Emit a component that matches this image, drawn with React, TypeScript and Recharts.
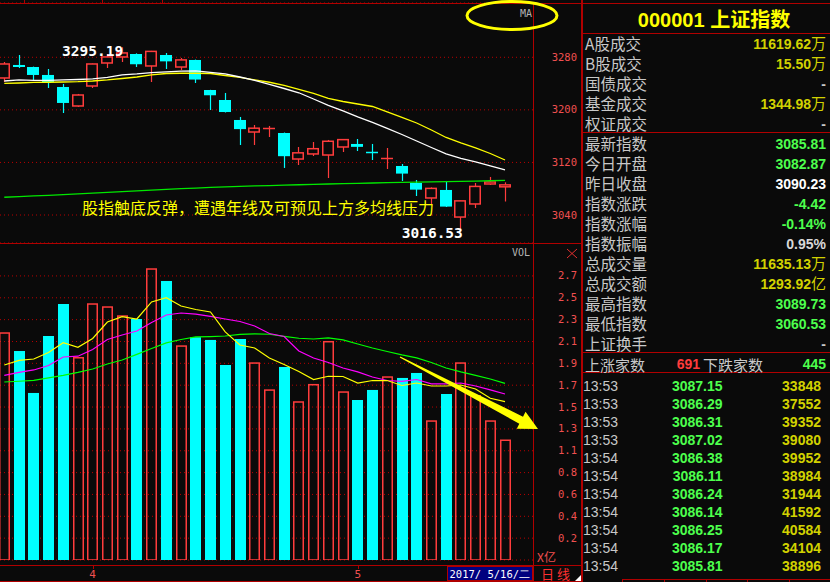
import React from 'react';
import { ComposedChart, Bar, Line, XAxis, YAxis, CartesianGrid, ReferenceLine, ReferenceDot } from 'recharts';

// ---------------- data ----------------
const dates = ['3/24','3/27','3/28','3/29','3/30','3/31','4/5','4/6','4/7','4/10','4/11','4/12','4/13','4/14','4/17','4/18','4/19','4/20','4/21','4/24','4/25','4/26','4/27','4/28','5/2','5/3','5/4','5/5','5/8','5/9','5/10','5/11','5/12','5/15','5/16'];
const opens = [3248.5,3268.3,3265.2,3253.1,3234.8,3205.9,3236.3,3271.3,3280.5,3285.0,3266.8,3283.5,3265.2,3275.9,3230.2,3215.0,3184.6,3166.3,3171.7,3164.8,3125.2,3132.9,3131.3,3143.5,3148.1,3137.5,3126.2,3114.6,3088.7,3065.9,3078.1,3036.9,3056.8,3087.2,3082.87];
const highs = [3272.8,3283.5,3265.8,3262.2,3239.4,3224.2,3270.5,3285.0,3295.19,3286.0,3289.7,3286.5,3278.9,3276.5,3230.5,3225.7,3189.2,3177.0,3175.5,3165.5,3143.5,3151.1,3154.2,3155.0,3155.7,3148.1,3142.0,3117.6,3093.3,3082.0,3091.8,3062.0,3088.7,3097.9,3089.73];
const lows = [3242.4,3263.7,3245.5,3233.3,3195.2,3204.4,3233.3,3263.7,3272.8,3265.2,3242.4,3262.2,3260.7,3240.9,3199.8,3196.0,3146.5,3146.5,3158.7,3111.6,3116.1,3129.8,3096.3,3135.9,3137.4,3123.7,3110.0,3091.8,3068.9,3056.8,3052.2,3016.53,3050.7,3085.7,3060.53];
const closes = [3269.8,3265.2,3253.1,3242.4,3210.5,3222.6,3269.8,3280.5,3286.6,3269.4,3288.97,3273.8,3276.0,3246.1,3222.2,3196.7,3170.7,3172.1,3173.2,3129.5,3134.6,3140.9,3152.2,3154.7,3143.7,3135.4,3127.4,3103.0,3078.6,3080.5,3052.8,3061.5,3083.5,3090.23,3085.81];
const volumes = [2.199,2.018,1.613,2.163,2.472,1.960,2.479,2.450,2.363,2.327,2.817,2.694,2.073,2.151,2.125,1.883,2.134,1.909,1.648,1.864,1.533,1.700,2.115,1.629,1.545,1.642,1.774,1.758,1.806,1.349,1.603,1.909,1.593,1.349,1.1635];
const priceMaWhite = [3243.9,3245.5,3245.0,3245.0,3245.5,3246.2,3247.0,3249.3,3253.1,3254.6,3256.6,3257.9,3258.8,3259.2,3256.9,3254.6,3250.0,3244.7,3238.6,3232.5,3226.0,3216.5,3206.7,3198.3,3189.2,3180.8,3171.7,3162.5,3152.6,3142.7,3132.9,3126.0,3120.7,3114.6,3108.5];
const priceMaYellow = [3240.4,3240.9,3241.7,3242.0,3242.4,3242.9,3243.9,3245.5,3247.7,3250.0,3253.1,3255.3,3255.7,3255.7,3255.3,3252.3,3249.3,3245.5,3242.0,3237.1,3231.0,3224.9,3217.3,3212.7,3208.9,3205.1,3196.8,3188.4,3180.0,3169.4,3158.0,3149.6,3142.0,3133.6,3123.7];
const priceMaYear = [3067.0,3068.0,3069.0,3070.0,3071.0,3072.2,3073.2,3074.4,3075.6,3076.8,3078.0,3079.0,3080.0,3081.0,3082.0,3082.8,3083.5,3084.2,3084.8,3085.4,3086.0,3086.6,3087.2,3087.7,3088.2,3088.7,3089.2,3089.7,3090.1,3090.5,3090.9,3091.3,3091.7,3092.1,3092.6];
const volMa5 = [1.883,1.927,1.941,2.004,2.098,2.054,2.139,2.298,2.350,2.327,2.492,2.533,2.453,2.419,2.395,2.202,2.076,2.047,1.951,1.888,1.820,1.743,1.774,1.772,1.709,1.733,1.733,1.685,1.709,1.680,1.680,1.690,1.651,1.562,1.529];
const volMa10 = [1.782,1.811,1.835,1.878,1.960,1.968,2.033,2.129,2.173,2.211,2.294,2.366,2.385,2.375,2.352,2.327,2.303,2.260,2.187,2.158,2.018,1.951,1.907,1.854,1.816,1.767,1.733,1.724,1.743,1.700,1.700,1.709,1.680,1.642,1.603];
const volMa20 = [1.719,1.726,1.735,1.758,1.782,1.811,1.844,1.893,1.931,1.985,2.042,2.096,2.129,2.154,2.157,2.163,2.178,2.183,2.180,2.160,2.141,2.134,2.144,2.125,2.086,2.047,2.013,1.980,1.951,1.907,1.854,1.816,1.782,1.748,1.706];

const priceTicks = [3040, 3120, 3200, 3280];
const volTicks = [0, 0.211, 0.422, 0.633, 0.844, 1.055, 1.266, 1.477, 1.688, 1.899, 2.11, 2.321, 2.532, 2.743];
const volTickLabels = ['', '0.2', '0.4', '0.6', '0.8', '1.1', '1.3', '1.5', '1.7', '1.9', '2.1', '2.3', '2.5', '2.7'];

const summaryLabels = ['A股成交', 'B股成交', '国债成交', '基金成交', '权证成交'];
const summaryValues = ['11619.62', '15.50', '-', '1344.98', '-'];
const summaryUnits = ['万', '万', '', '万', ''];
const quoteLabels = ['最新指数', '今日开盘', '昨日收盘', '指数涨跌', '指数涨幅', '指数振幅', '总成交量', '总成交额', '最高指数', '最低指数', '上证换手'];
const quoteValues = ['3085.81', '3082.87', '3090.23', '-4.42', '-0.14%', '0.95%', '11635.13', '1293.92', '3089.73', '3060.53', '-'];
const quoteUnits = ['', '', '', '', '', '', '万', '亿', '', '', ''];
const tickTimes = ['13:53', '13:53', '13:53', '13:53', '13:54', '13:54', '13:54', '13:54', '13:54', '13:54', '13:54'];
const tickPrices = ['3087.15', '3086.29', '3086.31', '3087.02', '3086.38', '3086.11', '3086.24', '3086.14', '3086.25', '3086.17', '3085.81'];
const tickVols = ['33848', '37552', '39352', '39080', '39952', '38984', '31944', '41592', '40584', '34104', '38896'];

// ---------------- styles ----------------
const BG = '#0a0a0a';
const RED = '#ff3c3c';
const CYAN = '#00ffff';
const BORDER = '#b00000';
const AXIS_TEXT = '#f05050';
const GRID = '#b80000';
const MONO = '"DejaVu Sans Mono", monospace';
const SANS = '"Liberation Sans", Arial, sans-serif';
const CJK = '"Noto Sans CJK SC", sans-serif';
const G_VAL = '#4dff4d';
const Y_VAL = '#d2d200';
const LABEL = '#c8c8c8';

const X_DOMAIN: [number, number] = [0.708, 36.9];

const data = dates.map((date, i) => ({
  idx: i + 1,
  date,
  open: opens[i],
  high: highs[i],
  low: lows[i],
  close: closes[i],
  range: [lows[i], highs[i]],
  vol: volumes[i],
  maW: priceMaWhite[i],
  maY: priceMaYellow[i],
  maYear: priceMaYear[i],
  v5: volMa5[i],
  v10: volMa10[i],
  v20: volMa20[i],
}));

const monthTicks = data.filter((d, i) => i > 0 && d.date.split('/')[0] !== data[i - 1].date.split('/')[0]).map((d) => d.idx);
const monthOf = (idx: number) => data[idx - 1].date.split('/')[0];

let hiPoint = data[0];
let loPoint = data[0];
data.forEach((d) => {
  if (d.high > hiPoint.high) hiPoint = d;
  if (d.low < loPoint.low) loPoint = d;
});

// ---------------- shapes ----------------
const Candle = (props: any) => {
  const { x, y, width, height, payload } = props;
  if (x == null || !payload) return null;
  const { open, close, high, low } = payload;
  const top = Math.min(y, y + height);
  const h = Math.abs(height);
  const span = high - low || 1;
  const py = (v: number) => top + ((high - v) / span) * h;
  const cx = Math.round(x + width / 2) + 0.5;
  const up = close >= open;
  const color = up ? RED : CYAN;
  const yo = py(open);
  const yc = py(close);
  const bTop = Math.min(yo, yc);
  const bBot = Math.max(yo, yc);
  const bh = bBot - bTop;
  const left = Math.round(x);
  if (bh < 1.6) {
    const ym = Math.round((bTop + bBot) / 2) + 0.5;
    return (
      <g>
        <line x1={cx} x2={cx} y1={top} y2={top + h} stroke={color} strokeWidth={1.2} />
        <line x1={left} x2={left + width} y1={ym} y2={ym} stroke={color} strokeWidth={1.5} />
      </g>
    );
  }
  if (up) {
    return (
      <g>
        <line x1={cx} x2={cx} y1={top} y2={bTop} stroke={color} strokeWidth={1.2} />
        <line x1={cx} x2={cx} y1={bBot} y2={top + h} stroke={color} strokeWidth={1.2} />
        <rect x={left + 0.75} y={bTop} width={width - 1.5} height={bh} fill={BG} stroke={color} strokeWidth={1.5} />
      </g>
    );
  }
  return (
    <g>
      <line x1={cx} x2={cx} y1={top} y2={top + h} stroke={color} strokeWidth={1.2} />
      <rect x={left} y={bTop} width={width} height={bh} fill={color} />
    </g>
  );
};

const VolBar = (props: any) => {
  const { x, y, width, height, payload } = props;
  if (x == null || !payload) return null;
  const top = Math.min(y, y + height);
  const h = Math.abs(height);
  const left = Math.round(x);
  if (payload.close >= payload.open) {
    return <rect x={left + 0.75} y={top + 0.75} width={width - 1.5} height={h - 0.75} fill="none" stroke={RED} strokeWidth={1.5} />;
  }
  return <rect x={left} y={top} width={width} height={h} fill={CYAN} />;
};

const PriceTick = (props: any) => {
  const { x, y, payload } = props;
  return (
    <text x={x + 44} y={y + 3.5} textAnchor="end" fill={AXIS_TEXT} fontSize={10.5} fontFamily={MONO}>
      {payload.value}
    </text>
  );
};

const VolTick = (props: any) => {
  const { x, y, payload } = props;
  const i = volTicks.indexOf(payload.value);
  return (
    <text x={x + 44} y={y + 3.5} textAnchor="end" fill={AXIS_TEXT} fontSize={10.5} fontFamily={MONO}>
      {i >= 0 ? volTickLabels[i] : ''}
    </text>
  );
};

const MonthTick = (props: any) => {
  const { x, y, payload } = props;
  return (
    <g>
      <line x1={Math.round(x) + 0.5} x2={Math.round(x) + 0.5} y1={y + 5} y2={y + 9} stroke={BORDER} />
      <text x={x} y={y + 18} textAnchor="middle" fill={AXIS_TEXT} fontSize={11} fontFamily={MONO}>
        {monthOf(payload.value)}
      </text>
    </g>
  );
};

const TrendArrow = (props: any) => {
  const { x1, y1, x2, y2 } = props;
  if ([x1, y1, x2, y2].some((v) => v == null || isNaN(v))) return null;
  const dx = x2 - x1;
  const dy = y2 - y1;
  const len = Math.sqrt(dx * dx + dy * dy);
  const ux = dx / len;
  const uy = dy / len;
  const nx = -uy;
  const ny = ux;
  const headLen = 19;
  const bx = x2 - ux * headLen;
  const by = y2 - uy * headLen;
  const pts = [
    [x1 + nx * 0.6, y1 + ny * 0.6],
    [bx + nx * 4, by + ny * 4],
    [bx + nx * 9.5, by + ny * 9.5],
    [x2, y2],
    [bx - nx * 9.5, by - ny * 9.5],
    [bx - nx * 4, by - ny * 4],
    [x1 - nx * 0.6, y1 - ny * 0.6],
  ];
  return <polygon points={pts.map((p) => p.join(',')).join(' ')} fill="#ffff00" />;
};

const HighLabel = (props: any) => {
  const { cx, cy } = props;
  if (cx == null) return null;
  return (
    <text x={cx + 1} y={cy + 8.5} textAnchor="end" fill="#ffffff" fontSize={14.5} fontWeight="bold" fontFamily={MONO}>
      {hiPoint.high.toFixed(2)}
    </text>
  );
};

const LowLabel = (props: any) => {
  const { cx, cy } = props;
  if (cx == null) return null;
  return (
    <text x={cx + 2} y={cy + 7.6} textAnchor="end" fill="#ffffff" fontSize={14.5} fontWeight="bold" fontFamily={MONO}>
      {loPoint.low.toFixed(2)}
    </text>
  );
};

// ---------------- right panel ----------------
const ValueText = ({ x, y, value, unit, color }: any) => (
  <text x={x} y={y} textAnchor="end" fill={color}>
    <tspan fontFamily={SANS} fontWeight="bold" fontSize={14}>{value}</tspan>
    {unit ? <tspan fontFamily={CJK} fontSize={15}>{unit}</tspan> : null}
  </text>
);

const summaryColors = [Y_VAL, Y_VAL, LABEL, Y_VAL, LABEL];
const quoteColors = [G_VAL, G_VAL, '#ffffff', G_VAL, G_VAL, '#d8d8d8', Y_VAL, Y_VAL, G_VAL, G_VAL, LABEL];

const RightPanel = () => (
  <svg width={830} height={582} style={{ position: 'absolute', left: 0, top: 0 }}>
    <text x={714} y={27} textAnchor="middle" fill="#ffff00" fontSize={20} fontWeight="bold">
      <tspan fontFamily={SANS}>000001 </tspan>
      <tspan fontFamily={CJK}>上证指数</tspan>
    </text>
    {summaryLabels.map((l, i) => (
      <g key={'s' + i}>
        <text x={585} y={50 + i * 20} fill={LABEL} fontSize={15.5} fontFamily={CJK}>{l}</text>
        <ValueText x={826} y={49 + i * 20} value={summaryValues[i]} unit={summaryUnits[i]} color={summaryColors[i]} />
      </g>
    ))}
    {quoteLabels.map((l, i) => (
      <g key={'q' + i}>
        <text x={585} y={150 + i * 20} fill={LABEL} fontSize={15.5} fontFamily={CJK}>{l}</text>
        <ValueText x={826} y={149 + i * 20} value={quoteValues[i]} unit={quoteUnits[i]} color={quoteColors[i]} />
      </g>
    ))}
    <text x={585} y={370.5} fill={LABEL} fontSize={15} fontFamily={CJK}>上涨家数</text>
    <text x={700} y={369} textAnchor="end" fill={RED} fontSize={14} fontWeight="bold" fontFamily={SANS}>691</text>
    <text x={703} y={370.5} fill={LABEL} fontSize={15} fontFamily={CJK}>下跌家数</text>
    <text x={826} y={369} textAnchor="end" fill={G_VAL} fontSize={14} fontWeight="bold" fontFamily={SANS}>445</text>
    {tickTimes.map((t, i) => (
      <g key={'t' + i}>
        <text x={583} y={391 + i * 18} fill={LABEL} fontSize={14} fontFamily={SANS}>{t}</text>
        <text x={722.5} y={391 + i * 18} textAnchor="end" fill={G_VAL} fontSize={14} fontWeight="bold" fontFamily={SANS}>{tickPrices[i]}</text>
        <text x={821} y={391 + i * 18} textAnchor="end" fill={Y_VAL} fontSize={14} fontWeight="bold" fontFamily={SANS}>{tickVols[i]}</text>
      </g>
    ))}
  </svg>
);

const Borders = () => (
  <svg width={830} height={582} style={{ position: 'absolute', left: 0, top: 0 }} shapeRendering="crispEdges">
    <g stroke={BORDER} strokeWidth={1}>
      <line x1={0} x2={830} y1={3.5} y2={3.5} />
      <line x1={24.5} x2={24.5} y1={0} y2={3} />
      <line x1={102.5} x2={102.5} y1={0} y2={3} />
      <line x1={162.5} x2={162.5} y1={0} y2={3} />
      <line x1={533.5} x2={533.5} y1={3} y2={582} />
      <line x1={0} x2={582} y1={243.5} y2={243.5} />
      <line x1={0} x2={582} y1={565.5} y2={565.5} />
      <line x1={0} x2={582} y1={581.5} y2={581.5} />
      <line x1={582} x2={830} y1={33.5} y2={33.5} />
      <line x1={582} x2={830} y1={132.5} y2={132.5} />
      <line x1={582} x2={830} y1={352.5} y2={352.5} />
      <line x1={582} x2={830} y1={372.5} y2={372.5} />
      <line x1={622} x2={830} y1={579.5} y2={579.5} />
      {[622.5, 664.5, 706.5, 747.5, 789.5].map((x) => (
        <line key={x} x1={x} x2={x} y1={579} y2={582} />
      ))}
    </g>
    <rect x={581} y={0} width={2} height={582} fill={BORDER} />
  </svg>
);

const Overlay = () => (
  <svg width={830} height={582} style={{ position: 'absolute', left: 0, top: 0, pointerEvents: 'none' }}>
    <text x={520} y={17} fill="#b4b4b4" fontSize={10} fontFamily={MONO}>MA</text>
    <ellipse cx={512} cy={15.5} rx={45} ry={14} fill="none" stroke="#ffff00" strokeWidth={3} />
    <text x={82} y={214} fill="#ffff00" fontSize={16} fontFamily={CJK}>股指触底反弹，遭遇年线及可预见上方多均线压力</text>
    <text x={512} y={256} fill="#b4b4b4" fontSize={10} fontFamily={MONO}>VOL</text>
    <g stroke="#e03030" strokeWidth={1}>
      <line x1={567} y1={249} x2={577} y2={258} />
      <line x1={577} y1={249} x2={567} y2={258} />
    </g>
    <text x={537} y={562} fill={AXIS_TEXT} fontSize={12} fontFamily={CJK}>X亿</text>
    <text x={541} y={578.5} fill="#ff3030" fontSize={13} fontFamily={CJK}>日 线</text>
    <polygon points="575,581 581,581 581,575" fill="#ffffff" />
    <rect x={447.5} y={566.5} width={85} height={14} fill="#000080" stroke={BORDER} />
    <text x={449.5} y={578} fill="#ffffff" fontSize={10.5} fontFamily={MONO}>2017/ 5/16/二</text>
  </svg>
);

export default function App() {
  return (
    <div style={{ position: 'absolute', left: 0, top: 0, width: 830, height: 582, background: BG, overflow: 'hidden' }}>
      <Borders />
      <div style={{ position: 'absolute', left: 0, top: 0 }}>
        <ComposedChart width={582} height={243} data={data} margin={{ top: 3, right: 0, bottom: 0, left: 0 }}>
          <CartesianGrid horizontal vertical={false} stroke={GRID} strokeDasharray="1 3" />
          <XAxis dataKey="idx" type="number" domain={X_DOMAIN} allowDataOverflow hide />
          <YAxis
            orientation="right"
            domain={[2997.4, 3362.6]}
            allowDataOverflow
            ticks={priceTicks}
            interval={0}
            width={49}
            axisLine={false}
            tickLine={false}
            tickSize={0}
            tickMargin={0}
            tick={<PriceTick />}
          />
          <Line dataKey="maYear" stroke="#00e800" strokeWidth={1.3} dot={false} isAnimationActive={false} />
          <Bar dataKey="range" barSize={12} shape={Candle} isAnimationActive={false} />
          <Line dataKey="maY" stroke="#ffff00" strokeWidth={1.3} dot={false} isAnimationActive={false} />
          <Line dataKey="maW" stroke="#ffffff" strokeWidth={1.3} dot={false} isAnimationActive={false} />
          <ReferenceDot x={hiPoint.idx} y={hiPoint.high} r={0} ifOverflow="visible" shape={HighLabel} />
          <ReferenceDot x={loPoint.idx} y={loPoint.low} r={0} ifOverflow="visible" shape={LowLabel} />
        </ComposedChart>
      </div>
      <div style={{ position: 'absolute', left: 0, top: 243 }}>
        <ComposedChart width={582} height={339} data={data} margin={{ top: 0, right: 0, bottom: 0, left: 0 }}>
          <CartesianGrid horizontal vertical={false} stroke={GRID} strokeDasharray="1 3" />
          <XAxis
            dataKey="idx"
            type="number"
            domain={X_DOMAIN}
            allowDataOverflow
            ticks={monthTicks}
            interval={0}
            height={22}
            axisLine={false}
            tickLine={false}
            tickSize={0}
            tickMargin={0}
            tick={<MonthTick />}
          />
          <YAxis
            orientation="right"
            domain={[0, 3.061]}
            allowDataOverflow
            ticks={volTicks}
            interval={0}
            width={49}
            axisLine={false}
            tickLine={false}
            tickSize={0}
            tickMargin={0}
            tick={<VolTick />}
          />
          <Bar dataKey="vol" barSize={11} shape={VolBar} isAnimationActive={false} />
          <Line dataKey="v20" stroke="#00ff00" strokeWidth={1.2} dot={false} isAnimationActive={false} />
          <Line dataKey="v10" stroke="#ff00ff" strokeWidth={1.2} dot={false} isAnimationActive={false} />
          <Line dataKey="v5" stroke="#ffff00" strokeWidth={1.2} dot={false} isAnimationActive={false} />
          <ReferenceLine
            segment={[{ x: 27.87, y: 1.96 }, { x: 37.24, y: 1.265 }]}
            ifOverflow="visible"
            stroke="#ffff00"
            shape={TrendArrow}
          />
        </ComposedChart>
      </div>
      <RightPanel />
      <Overlay />
    </div>
  );
}
